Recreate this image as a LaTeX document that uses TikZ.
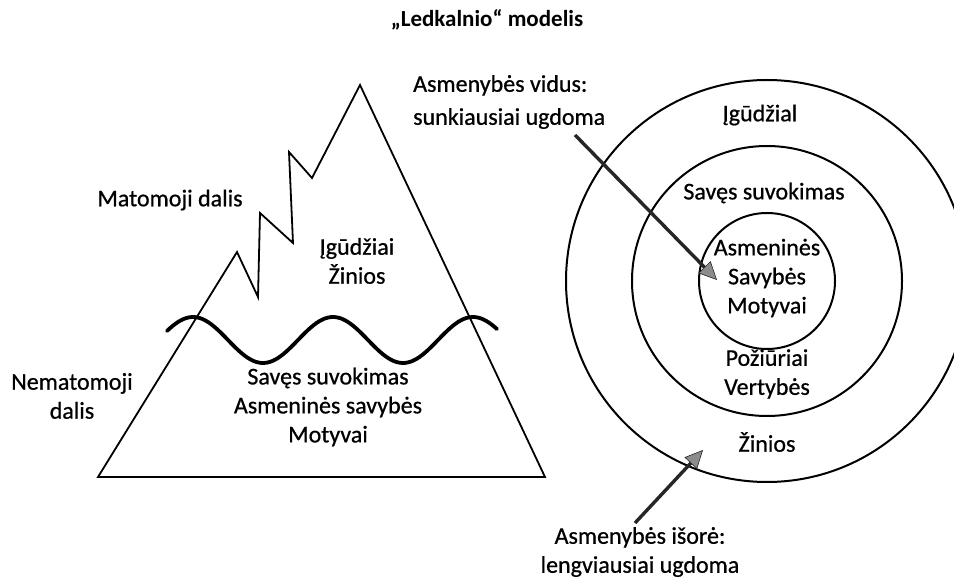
\documentclass[tikz,border=0pt]{standalone}
\usepackage{fontspec}
\setmainfont{Carlito}
\newfontfamily\bodyfont[FakeBold=0.7]{Carlito}
\usetikzlibrary{arrows.meta}
\begin{document}
\begin{tikzpicture}[x=1pt,y=1pt,
  lbl/.style={font=\bodyfont\fontsize{24}{29}\selectfont, align=center, inner sep=0pt},
  shape line/.style={line width=1.8pt, line join=miter},
  ring/.style={line width=2pt},
  pointer/.style={line width=3.4pt, color=black!85, -{Triangle[length=18pt,width=17pt,fill=black!45,line width=0.6pt]}}
]
\fill[white] (0,0) rectangle (954,579);
\useasboundingbox (0,0) rectangle (954,579);
\clip (0,0) rectangle (954,579);

% title
\node[lbl, font=\fontsize{23}{28}\selectfont\bfseries] (title) at (487,559) {„Ledkalnio“ modelis};

% iceberg
\draw[shape line] (98,102) -- (237,327) -- (258,282) -- (260,366) -- (293,336) -- (289,427) -- (312,401) -- (360,494) -- (545,102) -- cycle;
\draw[line width=3.8pt, line cap=round] plot[domain=167:497, samples=120, smooth] (\x, {239 + 23*cos((\x-193)*2.5714)});

\node[lbl] (mat) at (170,379) {Matomoji dalis};
\node[lbl] (nemat) at (72,183) {Nematomoji\\dalis};
\node[lbl] (top) at (357,318) {Įgūdžiai\\Žinios};
\node[lbl] (bottom) at (328,172) {Savęs suvokimas\\Asmeninės savybės\\Motyvai};

% circles
\coordinate (c) at (767,298);
\draw[ring] (c) circle[radius=201];
\draw[ring] (c) circle[radius=135];
\draw[ring] (c) circle[radius=68];

\node[lbl] (ig) at (760,464) {Įgūdžial};
\node[lbl] (sav) at (764,386) {Savęs suvokimas};
\node[lbl] (core) at (767,301) {Asmeninės\\Savybės\\Motyvai};
\node[lbl] (poz) at (767,205) {Požiūriai\\Vertybės};
\node[lbl] (zin) at (767,137) {Žinios};

% arrow labels
\node[lbl, align=left, anchor=west, font=\bodyfont\fontsize{24}{33}\selectfont] (inner) at (413,477) {Asmenybės vidus:\\sunkiausiai ugdoma};
\node[lbl] (outer) at (640,27) {Asmenybės išorė:\\lengviausiai ugdoma};

\coordinate (a1s) at (575,444);
\coordinate (a1e) at (717,299);
\coordinate (a2s) at (635,56);
\coordinate (a2e) at (703,129);
\draw[pointer] (a1s) -- (a1e);
\draw[pointer] (a2s) -- (a2e);
\end{tikzpicture}
\end{document}
